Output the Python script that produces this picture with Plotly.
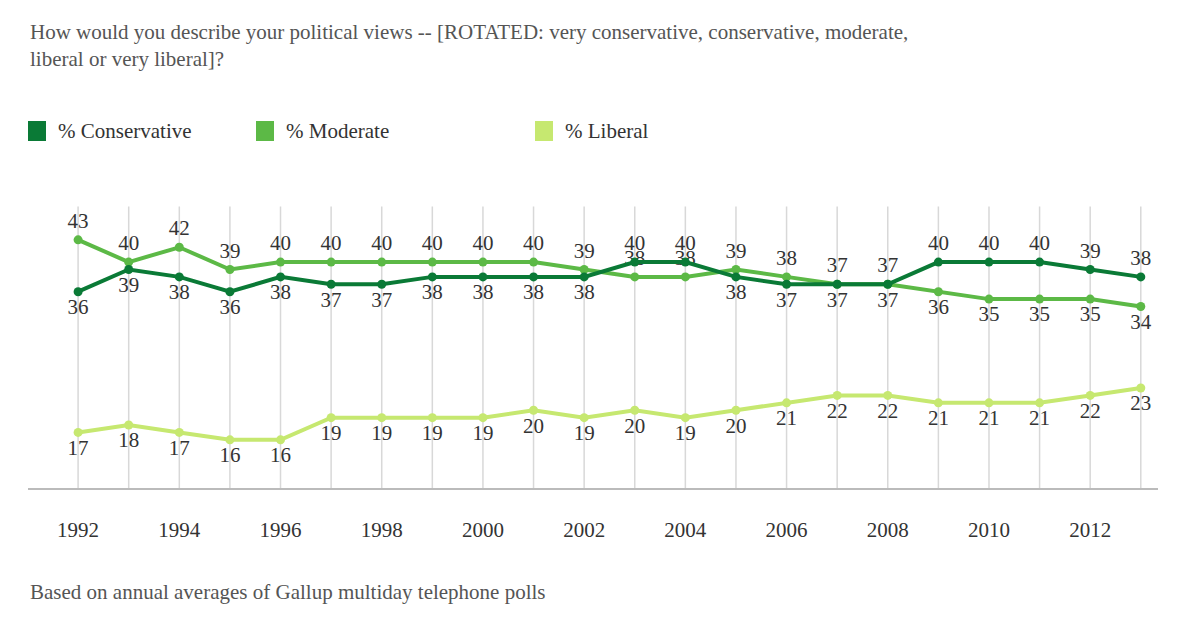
import plotly.graph_objects as go

years = list(range(1992, 2014))
conservative = [36,39,38,36,38,37,37,38,38,38,38,40,40,38,37,37,37,40,40,40,39,38]
moderate = [43,40,42,39,40,40,40,40,40,40,39,38,38,39,38,37,37,36,35,35,35,34]
liberal = [17,18,17,16,16,19,19,19,19,20,19,20,19,20,21,22,22,21,21,21,22,23]
tick_years = list(range(1992, 2013, 2))

c_cons, c_mod, c_lib = "#0a7a36", "#5cb946", "#c6e870"
font = "Liberation Serif"

cons_pos = ["bottom center"]*11 + ["top center"]*2 + ["bottom center"]*4 + ["top center"]*5
mod_pos = ["top center"]*17 + ["bottom center"]*5
lib_pos = ["bottom center"]*22

L, R, T, B = 20, 50, 180, 150
PW, PH = 1200 - L - R, 630 - T - B
def px(x): return (x - L) / PW
def py(y): return (630 - B - y) / PH

fig = go.Figure()
for name, vals, col, pos in [("% Liberal", liberal, c_lib, lib_pos),
                             ("% Moderate", moderate, c_mod, mod_pos),
                             ("% Conservative", conservative, c_cons, cons_pos)]:
    fig.add_trace(go.Scatter(x=years, y=vals, mode="lines+markers+text", name=name,
                             line=dict(color=col, width=4), marker=dict(color=col, size=9),
                             text=[str(v) for v in vals], textposition=pos,
                             textfont=dict(family=font, size=21, color="#333"),
                             cliponaxis=False, showlegend=False))

fig.update_xaxes(range=[1991.01, 2013.34], tickvals=tick_years, showgrid=False,
                 showline=True, linecolor="#bbb", linewidth=2, ticks="", ticklabelstandoff=22,
                 tickfont=dict(family=font, size=21, color="#333"), zeroline=False)
fig.update_yaxes(range=[9.5, 50], visible=False)
shapes = []
for y in years:
    shapes.append(dict(type="line", x0=y, x1=y, y0=9.5, y1=47.5, xref="x", yref="y",
                       line=dict(color="#d8d8d8", width=1.5), layer="below"))

annotations = []
for text, x, y in [("How would you describe your political views -- [ROTATED: very conservative, conservative, moderate,<br>liberal or very liberal]?", 20, 10),
                   ("Based on annual averages of Gallup multiday telephone polls", 20, 570)]:
    annotations.append(dict(xref="paper", yref="paper", xanchor="left", yanchor="top", showarrow=False,
                            x=px(x), y=py(y), text=text, align="left",
                            font=dict(family=font, size=21, color="#555")))
for lx, lab, col in [(20, "% Conservative", c_cons), (248, "% Moderate", c_mod), (527, "% Liberal", c_lib)]:
    shapes.append(dict(type="rect", xref="paper", yref="paper", x0=px(lx), x1=px(lx + 18),
                       y0=py(133), y1=py(113), fillcolor=col, line=dict(width=0)))
    annotations.append(dict(xref="paper", yref="paper", x=px(lx + 28), y=py(123), xanchor="left",
                            yanchor="middle", showarrow=False, text=lab,
                            font=dict(family=font, size=21, color="#333")))

fig.update_layout(width=1200, height=630, margin=dict(l=L, r=R, t=T, b=B),
                  plot_bgcolor="white", paper_bgcolor="white",
                  annotations=annotations, shapes=shapes)
fig.write_html("out.html")
